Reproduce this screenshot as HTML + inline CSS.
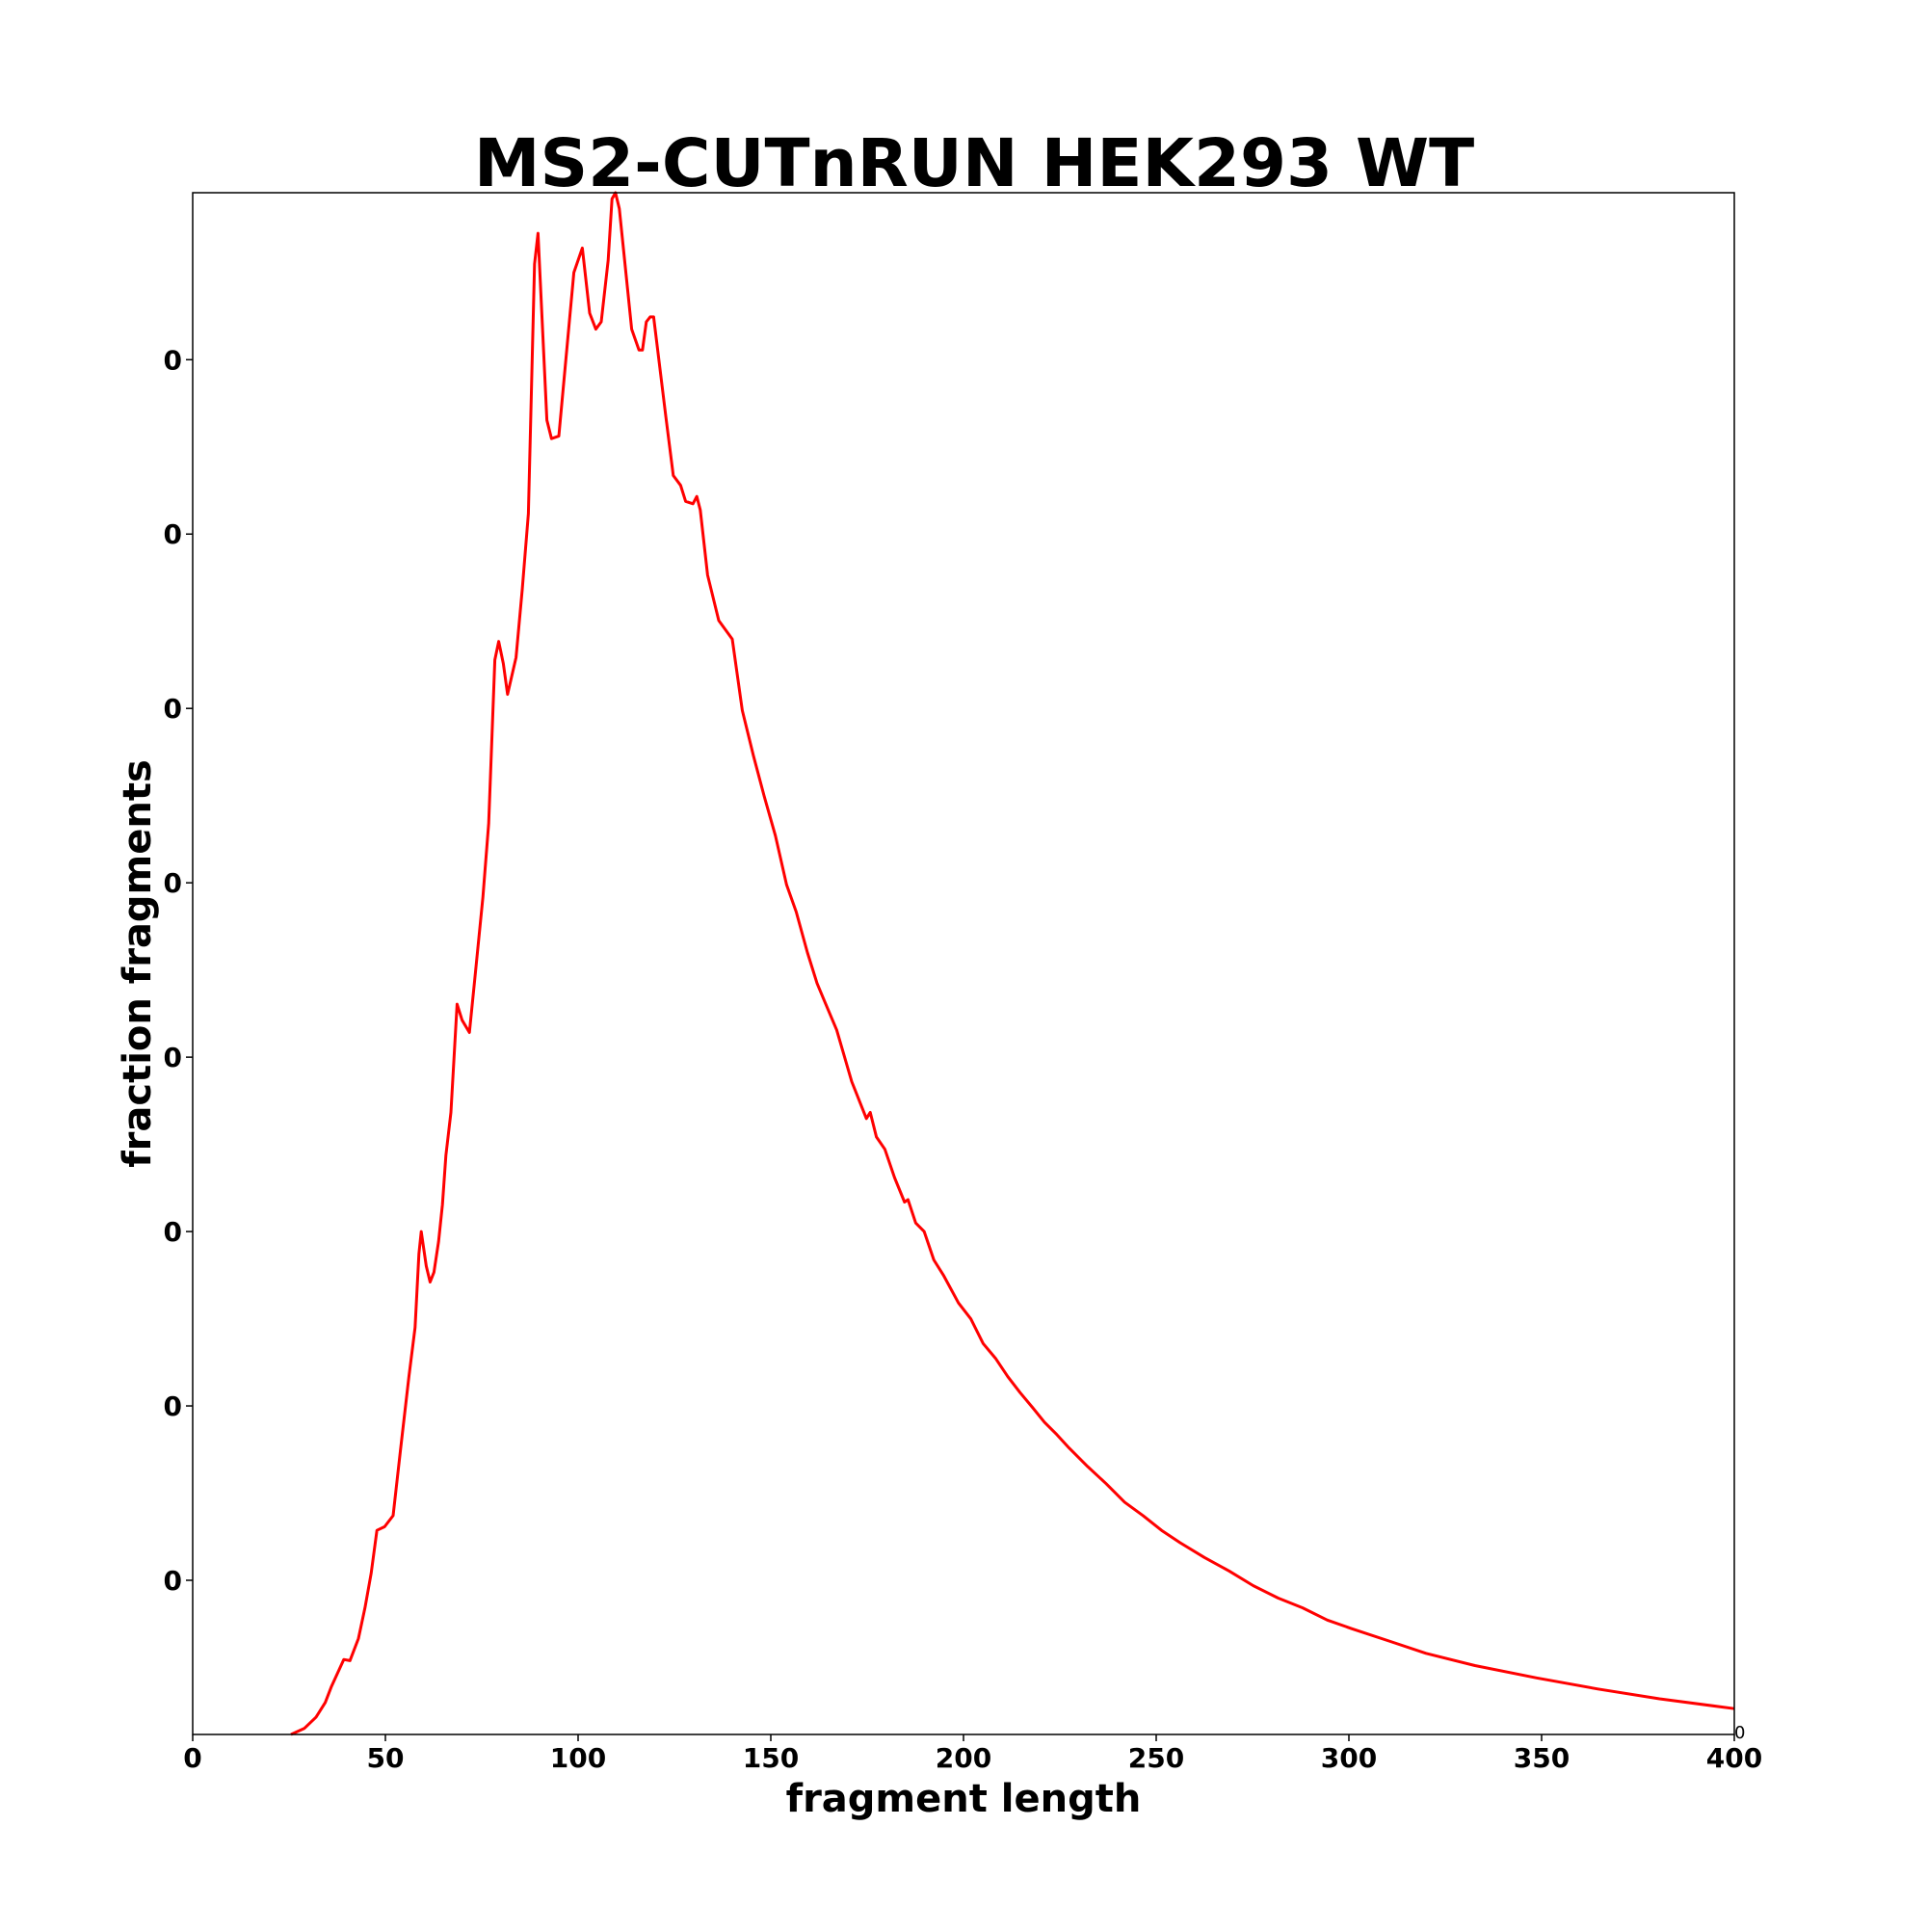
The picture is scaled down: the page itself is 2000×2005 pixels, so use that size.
<!DOCTYPE html>
<html><head><meta charset="utf-8"><style>
html,body{margin:0;padding:0;background:#fff;}
svg text{font-family:"DejaVu Sans","Liberation Sans",sans-serif;}
</style></head><body>
<svg id="chart" width="2000" height="2000" xmlns="http://www.w3.org/2000/svg">
<rect width="2000" height="2000" fill="#fff"/>
<text x="1011" y="193" font-size="69" font-weight="bold" text-anchor="middle">MS2-CUTnRUN HEK293 WT</text>
<g id="xticks"></g><g id="yticks"></g>
<path id="line" fill="none" stroke="#ff0000" stroke-width="3" stroke-linejoin="round"/>
<rect x="200" y="200" width="1600" height="1600" fill="none" stroke="#000" stroke-width="1.5"/>
<text x="1000" y="1880" font-size="40" font-weight="bold" text-anchor="middle">fragment length</text>
<text transform="translate(156,1000) rotate(-90)" font-size="40" font-weight="bold" text-anchor="middle">fraction fragments</text>
<text x="1800" y="1804" font-size="18">0</text>
</svg>
<script>
const xLen=[25.5,29,32,34.4,36,39.2,40.8,43,44.7,46.3,47.8,49.8,52,53.9,56.1,57.7,58.7,59.3,60.6,61.6,62.6,63.8,64.8,65.7,67,68,68.6,69.9,71.8,73.4,75.3,76.8,78.4,79.4,80.6,81.7,83.9,85.5,87.1,88.7,89.6,91.9,93.1,95,98.9,101.1,103,104.6,106,107.8,108.8,109.7,110.7,113.9,115.8,116.7,117.7,118.7,119.6,122.8,124.7,126.6,127.9,129.8,130.8,131.7,133.6,136.5,140,142.6,145.5,148.3,151.2,154.1,156.6,159.5,162,164,167.1,171,174.8,175.8,177.4,179.6,182.1,184.7,185.6,187.6,189.8,192.3,194.9,198.7,201.9,205.1,208.3,211.5,214.7,217.9,221,224.2,227.4,232.2,237,241.8,246.6,251.4,256.2,262.5,268.9,275.2,281.6,288,294.4,300.8,310.4,320,332.7,348.7,364.6,380.6,400];
const yDisp=[1411,1406,1397,1385,1372,1350,1351,1333,1308,1280,1245,1242,1233,1180,1120,1080,1020,1002,1030,1043,1035,1010,980,940,905,850,817,830,840,790,730,670,537,522,540,565,535,480,418,215,190,342,357,355,222,202,255,268,262,212,162,157,170,268,285,285,262,258,258,340,387,395,408,410,404,415,468,505,520,578,615,648,680,720,742,775,800,815,838,880,910,905,925,935,958,978,976,995,1002,1025,1038,1060,1073,1093,1105,1120,1133,1145,1157,1167,1178,1193,1207,1222,1233,1245,1255,1267,1278,1290,1300,1308,1318,1325,1335,1345,1355,1365,1374,1382,1390];
const fraction=yDisp.map(v=>(1411-v)/1254);
const xTicks=[0,50,100,150,200,250,300,350,400];
const yTicks=[0.1,0.2131,0.3262,0.4393,0.5524,0.6655,0.7786,0.8917];
const yTickLabels=["0","0","0","0","0","0","0","0"];
const X=v=>200+v/400*1600, Y=v=>1800-v*1600;
const ns="http://www.w3.org/2000/svg";
let d=xLen.map((x,i)=>(i?"L":"M")+X(x).toFixed(1)+","+Y(fraction[i]).toFixed(1)).join(" ");
document.getElementById('line').setAttribute('d',d);
const xg=document.getElementById('xticks');
xTicks.forEach(t=>{
 const l=document.createElementNS(ns,'line');
 
 
 l.setAttribute('x1',X(t));l.setAttribute('x2',X(t));l.setAttribute('y1',1800);l.setAttribute('y2',1807);l.setAttribute('stroke','#000');l.setAttribute('stroke-width','1.5');xg.appendChild(l);
 const tx=document.createElementNS(ns,'text');
 
 
 tx.setAttribute('x',X(t));tx.setAttribute('y',1834);tx.setAttribute('font-size','28');tx.setAttribute('font-weight','bold');tx.setAttribute('text-anchor','middle');tx.textContent=t;xg.appendChild(tx);
});
const yg=document.getElementById('yticks');
yTicks.forEach((t,i)=>{
 const l=document.createElementNS(ns,'line');
 
 
 l.setAttribute('x1',193);l.setAttribute('x2',200);l.setAttribute('y1',Y(t));l.setAttribute('y2',Y(t));l.setAttribute('stroke','#000');l.setAttribute('stroke-width','1.5');yg.appendChild(l);
 const tx=document.createElementNS(ns,'text');
 
 
 tx.setAttribute('x',189);tx.setAttribute('y',Y(t)+10);tx.setAttribute('font-size','28');tx.setAttribute('font-weight','bold');tx.setAttribute('text-anchor','end');tx.textContent=yTickLabels[i];yg.appendChild(tx);
});
</script>
</body></html>
